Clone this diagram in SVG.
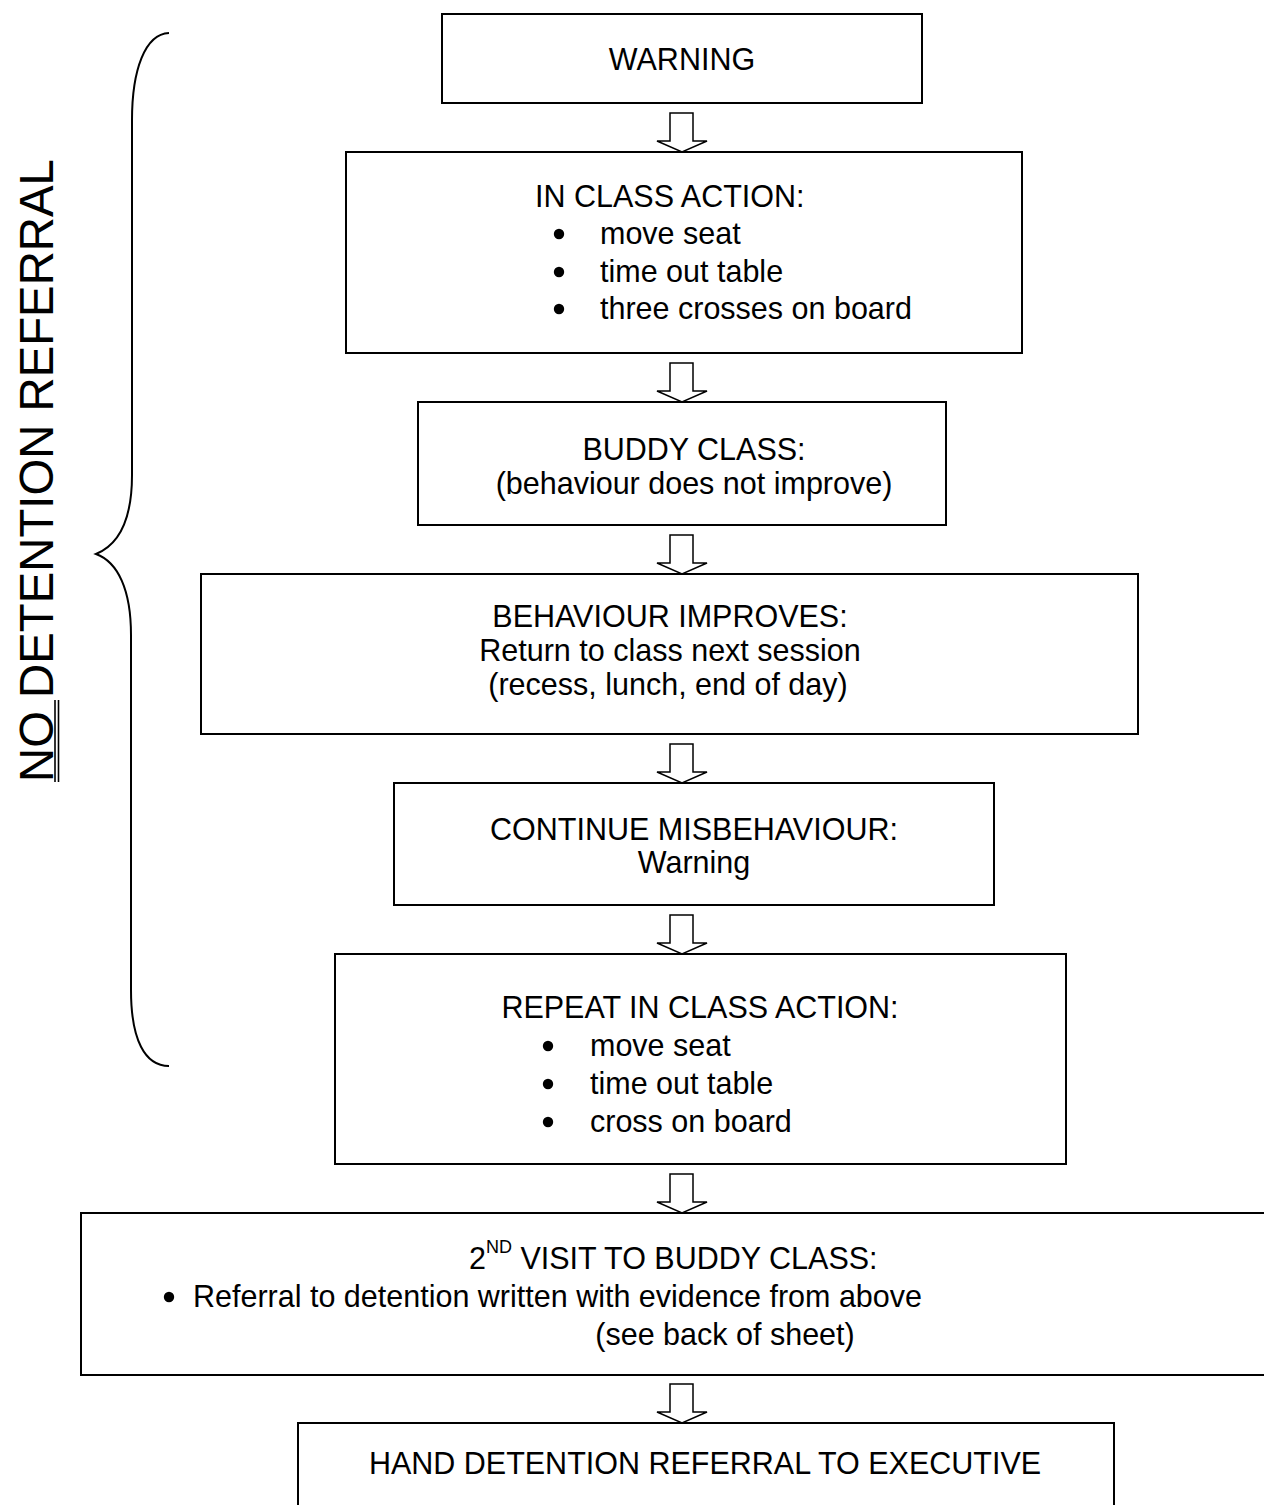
<svg xmlns="http://www.w3.org/2000/svg" width="1264" height="1505" viewBox="0 0 1264 1505">
<style>
.box{fill:#fff;stroke:#000;stroke-width:2}
.arr{fill:#fff;stroke:#000;stroke-width:1.5;stroke-linejoin:miter}
text{font-family:"Liberation Sans",Arial,sans-serif;font-size:30.5px;fill:#000}
.c{text-anchor:middle}
.b{fill:#000}
</style>
<rect width="1264" height="1505" fill="#fff"/>
<g id="brace">
<path d="M169,33 C145,34 132,70 132,120 L132,475 C132,520 118,545 96,554 C118,562 131,590 131,635 L131,990 C131,1040 145,1066 169,1066" fill="none" stroke="#000" stroke-width="2"/>
</g>
<g id="side-label">
<text transform="translate(53,782) rotate(-90)" style="font-size:47.3px">NO DETENTION REFERRAL</text>
<line x1="55" y1="782" x2="55" y2="700" stroke="#000" stroke-width="1.6"/>
<line x1="58.5" y1="782" x2="58.5" y2="700" stroke="#000" stroke-width="1.6"/>
</g>
<g id="connectors">
<path class="arr" d="M670,113 L693,113 L693,141 L707,141 L682,152 L657,141 L670,141 Z"/>
<path class="arr" d="M670,363 L693,363 L693,391 L707,391 L682,402 L657,391 L670,391 Z"/>
<path class="arr" d="M670,535 L693,535 L693,563 L707,563 L682,574 L657,563 L670,563 Z"/>
<path class="arr" d="M670,744 L693,744 L693,772 L707,772 L682,783 L657,772 L670,772 Z"/>
<path class="arr" d="M670,915 L693,915 L693,943 L707,943 L682,954 L657,943 L670,943 Z"/>
<path class="arr" d="M670,1174 L693,1174 L693,1202 L707,1202 L682,1213 L657,1202 L670,1202 Z"/>
<path class="arr" d="M670,1384 L693,1384 L693,1412 L707,1412 L682,1423 L657,1412 L670,1412 Z"/>
</g>
<g id="warning">
<rect class="box" x="442" y="14" width="480" height="89"/>
<text class="c" x="682" y="70">WARNING</text>
</g>
<g id="in-class-action">
<rect class="box" x="346" y="152" width="676" height="201"/>
<text x="535" y="207">IN CLASS ACTION:</text>
<circle class="b" cx="559" cy="234" r="5.2"/>
<text x="600" y="244">move seat</text>
<circle class="b" cx="559" cy="272" r="5.2"/>
<text x="600" y="282">time out table</text>
<circle class="b" cx="559" cy="309" r="5.2"/>
<text x="600" y="319">three crosses on board</text>
</g>
<g id="buddy-class">
<rect class="box" x="418" y="402" width="528" height="123"/>
<text class="c" x="694" y="460">BUDDY CLASS:</text>
<text class="c" x="694" y="494">(behaviour does not improve)</text>
</g>
<g id="behaviour-improves">
<rect class="box" x="201" y="574" width="937" height="160"/>
<text class="c" x="670" y="627">BEHAVIOUR IMPROVES:</text>
<text class="c" x="670" y="661">Return to class next session</text>
<text class="c" x="668" y="695">(recess, lunch, end of day)</text>
</g>
<g id="continue-misbehaviour">
<rect class="box" x="394" y="783" width="600" height="122"/>
<text class="c" x="694" y="840">CONTINUE MISBEHAVIOUR:</text>
<text class="c" x="694" y="873">Warning</text>
</g>
<g id="repeat-in-class-action">
<rect class="box" x="335" y="954" width="731" height="210"/>
<text class="c" x="700" y="1018">REPEAT IN CLASS ACTION:</text>
<circle class="b" cx="548" cy="1046" r="5.2"/>
<text x="590" y="1056">move seat</text>
<circle class="b" cx="548" cy="1084" r="5.2"/>
<text x="590" y="1094">time out table</text>
<circle class="b" cx="548" cy="1122" r="5.2"/>
<text x="590" y="1132">cross on board</text>
</g>
<g id="second-visit">
<rect class="box" x="81" y="1213" width="1200" height="162"/>
<text x="469" y="1269">2<tspan style="font-size:18px" dy="-16">ND</tspan><tspan dy="16"> VISIT TO BUDDY CLASS:</tspan></text>
<circle class="b" cx="169" cy="1297" r="5.2"/>
<text x="193" y="1307">Referral to detention written with evidence from above</text>
<text class="c" x="725" y="1345">(see back of sheet)</text>
</g>
<g id="hand-referral">
<rect class="box" x="298" y="1423" width="816" height="100"/>
<text class="c" x="705" y="1474">HAND DETENTION REFERRAL TO EXECUTIVE</text>
</g>
</svg>
